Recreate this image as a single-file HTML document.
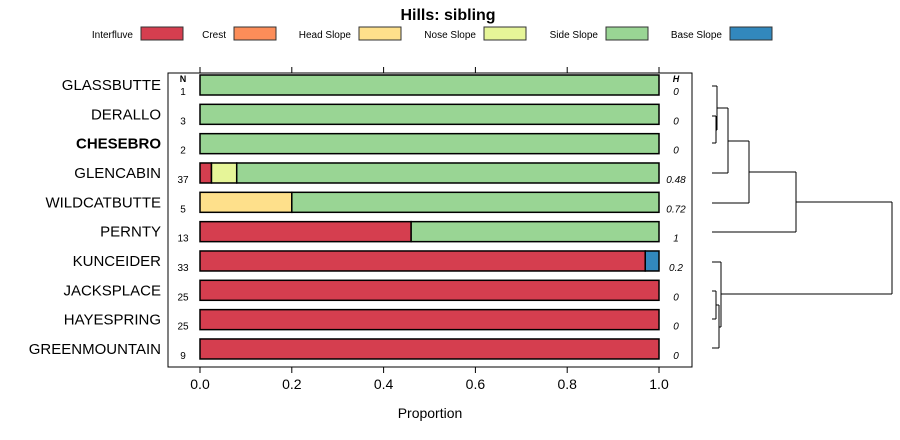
<!DOCTYPE html>
<html><head><meta charset="utf-8"><style>
body{margin:0;background:#fff;}
svg{display:block;font-family:"Liberation Sans",sans-serif;}
</style></head><body>
<svg id="chart" width="900" height="440">
<text x="448" y="20" text-anchor="middle" font-size="16" font-weight="bold">Hills: sibling</text>
<g id="legend"></g>
<rect x="168" y="73" width="524" height="294" fill="none" stroke="#000" stroke-width="1"/>
<g id="bars"></g>
<g id="axis"></g>
<text x="430" y="418" text-anchor="middle" font-size="14">Proportion</text>
<text x="183" y="82" text-anchor="middle" font-size="9" font-weight="bold">N</text>
<text x="676" y="82" text-anchor="middle" font-size="9" font-weight="bold" font-style="italic">H</text>
<g id="dendro" fill="none" stroke="#000" stroke-width="1"></g>
</svg>
<script>
const classes=["Interfluve","Crest","Head Slope","Nose Slope","Side Slope","Base Slope"];
const colors=["#D53E4F","#FC8D59","#FEE08B","#E6F598","#99D594","#3288BD"];
const names=["GLASSBUTTE","DERALLO","CHESEBRO","GLENCABIN","WILDCATBUTTE","PERNTY","KUNCEIDER","JACKSPLACE","HAYESPRING","GREENMOUNTAIN"];
const counts=[1,3,2,37,5,13,33,25,25,9];
const hvals=["0","0","0","0.48","0.72","1","0.2","0","0","0"];
const interfluve=[0,0,0,0.025,0,0.46,0.97,1,1,1];
const crest=[0,0,0,0,0,0,0,0,0,0];
const headSlope=[0,0,0,0,0.2,0,0,0,0,0];
const noseSlope=[0,0,0,0.055,0,0,0,0,0,0];
const sideSlope=[1,1,1,0.92,0.8,0.54,0,0,0,0];
const baseSlope=[0,0,0,0,0,0,0.03,0,0,0];
const ticks=[0,0.2,0.4,0.6,0.8,1.0];
const NS="http://www.w3.org/2000/svg";
const X=v=>200+v*459;
const Y=i=>85+i*29.33;
function mk(t,a,p){const e=document.createElementNS(NS,t);for(const k in a)e.setAttribute(k,a[k]);p.appendChild(e);return e;}
const series=[interfluve,crest,headSlope,noseSlope,sideSlope,baseSlope];
const bars=document.getElementById('bars');
names.forEach((n,i)=>{
  let cum=0;
  series.forEach((s,k)=>{
    if(s[i]>0){
      const r=mk('rect',{x:X(cum),y:Y(i)-10,width:X(cum+s[i])-X(cum),height:20,fill:colors[k],stroke:'#000','stroke-width':1.5},bars);
      
      
      cum+=s[i];
    }
  });
  const t=mk('text',{x:161,y:Y(i)+5,'text-anchor':'end','font-size':15,'font-weight':n==="CHESEBRO"?'bold':'normal'},bars);t.textContent=n;
  
  
  const c=mk('text',{x:183,y:Y(i)+10,'text-anchor':'middle','font-size':10},bars);c.textContent=counts[i];
  
  
  const h=mk('text',{x:676,y:Y(i)+10,'text-anchor':'middle','font-size':10,'font-style':'italic'},bars);h.textContent=hvals[i];
  
  
});
const ax=document.getElementById('axis');
ticks.forEach(v=>{
  mk('line',{x1:X(v),x2:X(v),y1:367,y2:373,stroke:'#000'},ax);
  mk('line',{x1:X(v),x2:X(v),y1:73,y2:67,stroke:'#000'},ax);
  const t=mk('text',{x:X(v),y:389,'text-anchor':'middle','font-size':14},ax);t.textContent=v.toFixed(1);
  
  
});
const lg=document.getElementById('legend');
const lgBox=[141,234,359,484,606,730];
classes.forEach((c,k)=>{
  const r=mk('rect',{x:lgBox[k],y:27,width:42,height:13,fill:colors[k],stroke:'#333'},lg);
  
  
  const t=mk('text',{x:lgBox[k]-8,y:38,'text-anchor':'end','font-size':10},lg);t.textContent=c;
  
  
});
const dg=document.getElementById('dendro');
const merges=[[717,86,130],[716,116,143],[728,108,173],[749,141,203],[796,172,232],[892,202,294],[716,291,319],[719,305,348],[721,262,327]];
const leafY=[86,116,143,173,203,232,262,291,319,348];
const leafEnd=[717,716,716,728,749,796,721,716,716,719];
leafY.forEach((y,i)=>mk('line',{x1:712,x2:leafEnd[i],y1:y,y2:y},dg));
const joins=[[717,108,728],[716,130,717],[728,141,749],[749,172,796],[796,202,892],[721,294,892],[716,305,719],[719,327,721]];
merges.forEach(m=>mk('line',{x1:m[0],x2:m[0],y1:m[1],y2:m[2]},dg));
joins.forEach(j=>mk('line',{x1:j[0],x2:j[2],y1:j[1],y2:j[1]},dg));
</script>
</body></html>
